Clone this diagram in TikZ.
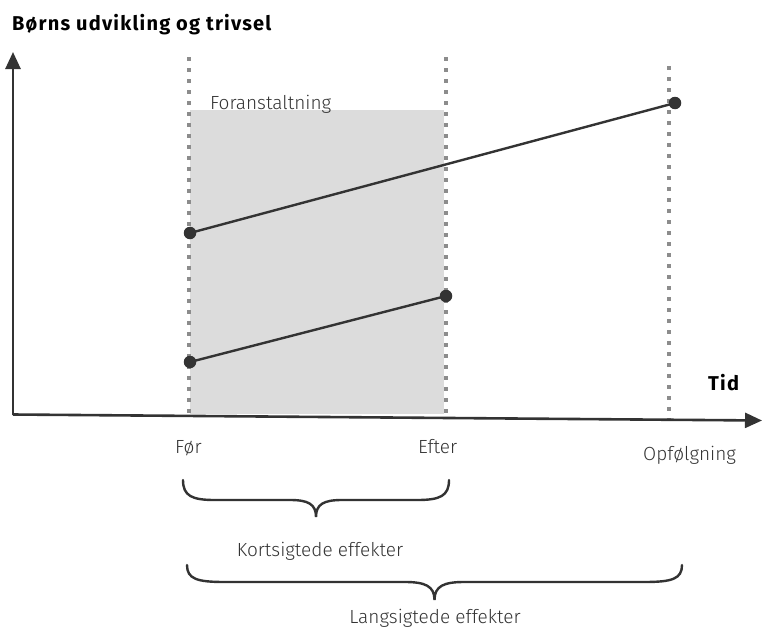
\documentclass[tikz,border=0pt]{standalone}
\usepackage{fontspec}
\setmainfont{Fira Sans Light}
\newfontfamily\titlefont{Fira Sans}[LetterSpace=6]
\usetikzlibrary{arrows.meta}
\definecolor{ink}{HTML}{333333}
\definecolor{dotgray}{HTML}{8C8C8C}
\definecolor{boxgray}{HTML}{DCDCDC}
\tikzset{
  lbl/.style={inner sep=0pt, font=\fontsize{19}{22}\selectfont, text=ink},
  blbl/.style={inner sep=0pt, font=\titlefont\fontsize{20}{22}\selectfont\bfseries, text=black},
  axisline/.style={draw=ink, line width=2.6pt, -{Triangle[length=17pt,width=15pt]}},
  timeline/.style={draw=dotgray, line width=4pt, dash pattern=on 4pt off 7pt},
  trend/.style={draw=ink, line width=2.4pt},
  pt/.style={circle, fill=ink, inner sep=0pt, minimum size=12.5pt},
  bracestyle/.style={draw=ink, line width=2.4pt, line cap=round}
}
\begin{document}
\begin{tikzpicture}[x=1pt,y=-1pt]
\useasboundingbox (0,0) rectangle (762,629);
% shaded intervention box
\fill[boxgray] (190,110) rectangle (444,414);
% time lines
\coordinate (f1) at (189,57);  \coordinate (f2) at (189,413);
\coordinate (e1) at (446,57);  \coordinate (e2) at (446,413);
\coordinate (o1) at (669,66);  \coordinate (o2) at (669,420);
\draw[timeline] (f1) -- (f2);
\draw[timeline] (e1) -- (e2);
\draw[timeline] (o1) -- (o2);
% axes
\coordinate (origin) at (13,414.5);
\coordinate (ytop) at (13,52);
\coordinate (xend) at (762,420.5);
\draw[axisline] (origin) -- (ytop);
\draw[axisline] (origin) -- (xend);
% trend lines
\node[pt] (a1) at (190,233) {};
\node[pt] (a2) at (675,103) {};
\node[pt] (b1) at (190,362) {};
\node[pt] (b2) at (446,296) {};
\draw[trend] (a1.center) -- (a2.center);
\draw[trend] (b1.center) -- (b2.center);
% texts
\node[blbl, anchor=base west] (title) at (12,30) {Børns udvikling og trivsel};
\node[lbl, anchor=base west] (fora) at (210,109) {Foranstaltning};
\node[blbl, anchor=base west] (tid) at (708,390) {Tid};
\node[lbl, anchor=base west] (foer) at (175,453) {Før};
\node[lbl, anchor=base west] (efter) at (418,453) {Efter};
\node[lbl, anchor=base west] (opf) at (643,460) {Opfølgning};
% braces
\draw[bracestyle] (183,480) .. controls (183,496) and (192,500) .. (215,500)
  -- (290,500) .. controls (308,500) and (316,504) .. (316,517)
  .. controls (316,504) and (324,500) .. (342,500)
  -- (417,500) .. controls (440,500) and (449,496) .. (449,480);
\draw[bracestyle] (187,565) .. controls (187,579) and (197,582) .. (225,582)
  -- (405,582) .. controls (425,582) and (434.5,586) .. (434.5,600)
  .. controls (434.5,586) and (444,582) .. (464,582)
  -- (644,582) .. controls (672,582) and (682,579) .. (682,565);
\node[lbl, anchor=base] (kort) at (320,556) {Kortsigtede effekter};
\node[lbl, anchor=base] (lang) at (435,623) {Langsigtede effekter};
\end{tikzpicture}
\end{document}
